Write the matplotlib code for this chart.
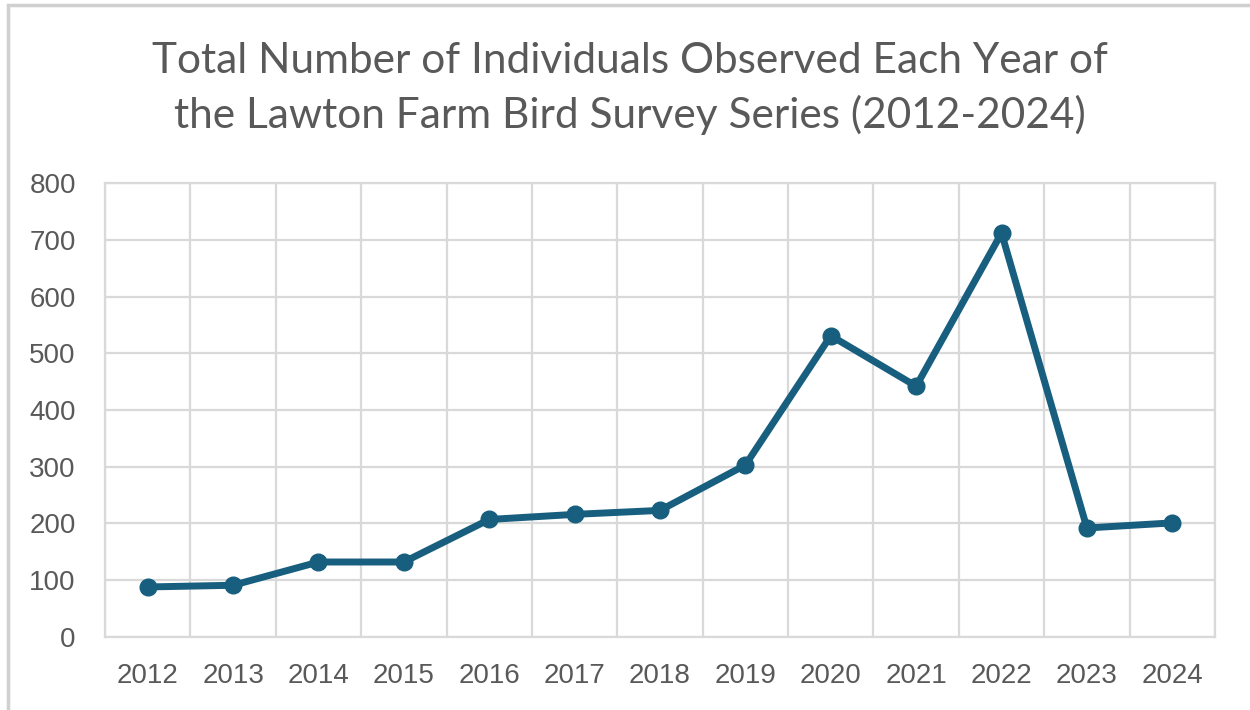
import numpy as np
import matplotlib
matplotlib.use('Agg')
from matplotlib import pyplot as plt
from matplotlib.patches import Rectangle

years = ['2012', '2013', '2014', '2015', '2016', '2017', '2018',
         '2019', '2020', '2021', '2022', '2023', '2024']
individuals = [88, 91, 132, 132, 207, 216, 223, 303, 531, 442, 712, 192, 201]
y_ticks = [0, 100, 200, 300, 400, 500, 600, 700, 800]

title = ('Total Number of Individuals Observed Each Year of\n'
         'the Lawton Farm Bird Survey Series (2012-2024)')

line_color = '#175e7f'
grid_color = '#d9d9d9'
text_color = '#595959'

plt.rcParams['font.family'] = ['Liberation Sans', 'DejaVu Sans']

fig = plt.figure(figsize=(12.5, 7.1), dpi=100)
ax = fig.add_axes([0.084, 0.103, 0.888, 0.639])

# outer chart border (only top/left visible in the reference)
fig.patches.append(Rectangle((8 / 1250, -0.1), 1.2, 1 - 5 / 710 + 0.1,
                             transform=fig.transFigure, fill=False,
                             edgecolor='#d0d0d0', linewidth=2.5))

x = np.arange(len(years))
ax.plot(x, individuals, color=line_color, linewidth=5,
        marker='o', markersize=12, solid_joinstyle='round', zorder=3)

ax.set_xlim(-0.5, len(years) - 0.5)
ax.set_ylim(0, 800)
ax.set_yticks(y_ticks)
ax.set_xticks(x)
ax.set_xticklabels(years)
ax.set_xticks(np.arange(-0.5, len(years)), minor=True)

ax.grid(axis='y', which='major', color=grid_color, linewidth=1.6)
ax.grid(axis='x', which='minor', color=grid_color, linewidth=1.6)
ax.set_axisbelow(True)
for s in ax.spines.values():
    s.set_color(grid_color)
    s.set_linewidth(1.6)

ax.tick_params(which='both', length=0, labelsize=20, colors=text_color)
ax.tick_params(axis='x', pad=19)
ax.tick_params(axis='y', pad=21)

fig.text(0.504, 0.941, title, ha='center', va='top', fontsize=30.5,
         color=text_color, linespacing=1.46, family=['Lato', 'DejaVu Sans'])

plt.savefig('out.png', dpi=100)
plt.close(fig)
